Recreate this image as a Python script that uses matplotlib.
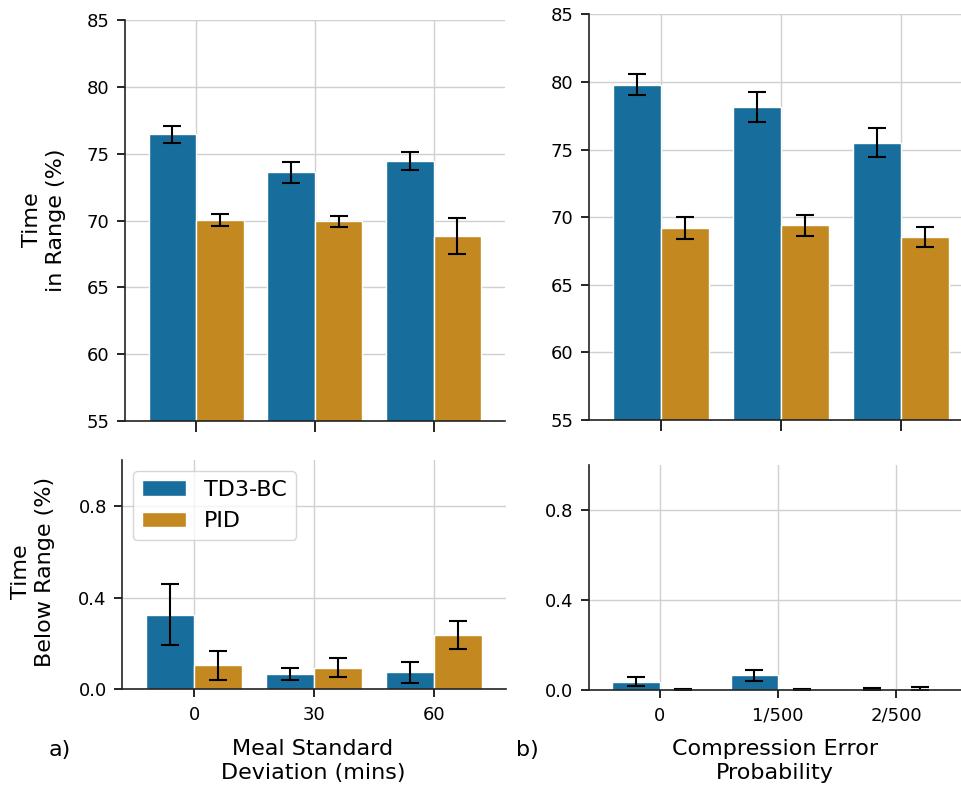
import numpy as np
import matplotlib
matplotlib.use("Agg")
import matplotlib.pyplot as plt
import seaborn as sns

# Data
meal_labels = ["0", "30", "60"]
comp_labels = ["0", "1/500", "2/500"]

tir_meal_td3 = [76.45, 73.6, 74.45]
tir_meal_td3_err = [0.65, 0.8, 0.66]
tir_meal_pid = [70.05, 69.95, 68.85]
tir_meal_pid_err = [0.45, 0.4, 1.35]

tir_comp_td3 = [79.8, 78.15, 75.5]
tir_comp_td3_err = [0.76, 1.1, 1.06]
tir_comp_pid = [69.2, 69.4, 68.55]
tir_comp_pid_err = [0.8, 0.78, 0.75]

tbr_meal_td3 = [0.325, 0.065, 0.075]
tbr_meal_td3_err = [0.133, 0.026, 0.046]
tbr_meal_pid = [0.105, 0.095, 0.237]
tbr_meal_pid_err = [0.063, 0.04, 0.06]

tbr_comp_td3 = [0.036, 0.065, 0.005]
tbr_comp_td3_err = [0.02, 0.023, 0.005]
tbr_comp_pid = [0.002, 0.002, 0.006]
tbr_comp_pid_err = [0.001, 0.002, 0.005]

pal = sns.color_palette("colorblind")
c_td3 = sns.desaturate(pal[0], 0.75)
c_pid = sns.desaturate(pal[1], 0.75)

plt.rcParams['font.family'] = ['DejaVu Sans']

fig = plt.figure(figsize=(9.61, 7.87), dpi=100)
ax_tl = fig.add_axes([0.130, 0.465, 0.3955, 0.5096])
ax_tr = fig.add_axes([0.6129, 0.4663, 0.3996, 0.5155])
ax_bl = fig.add_axes([0.127, 0.1241, 0.3996, 0.2914])
ax_br = fig.add_axes([0.6126, 0.1233, 0.3937, 0.2857])


def draw(ax, td3, td3_err, pid, pid_err, labels, ylim, yticks, show_labels):
    x = np.arange(len(labels))
    w = 0.4
    ekw = dict(ecolor="black", elinewidth=1.5, capsize=6.5, capthick=1.5)
    ax.bar(x - w / 2, td3, w, yerr=td3_err, color=c_td3, edgecolor="white",
           linewidth=1, label="TD3-BC", error_kw=ekw, zorder=2)
    ax.bar(x + w / 2, pid, w, yerr=pid_err, color=c_pid, edgecolor="white",
           linewidth=1, label="PID", error_kw=ekw, zorder=2)
    ax.set_xlim(-0.6, 2.6)
    ax.set_ylim(*ylim)
    ax.set_yticks(yticks)
    ax.set_xticks(x)
    if show_labels:
        ax.set_xticklabels(labels)
    else:
        ax.set_xticklabels([])
    ax.grid(True, color="#d0d0d0", linewidth=1)
    ax.set_axisbelow(True)
    for s in ["top", "right"]:
        ax.spines[s].set_visible(False)
    for s in ["left", "bottom"]:
        ax.spines[s].set_color("#222222")
        ax.spines[s].set_linewidth(1.2)
    ax.tick_params(labelsize=13, length=6, width=1.2, pad=5)


draw(ax_tl, tir_meal_td3, tir_meal_td3_err, tir_meal_pid, tir_meal_pid_err,
     meal_labels, (55, 85), [55, 60, 65, 70, 75, 80, 85], False)
draw(ax_tr, tir_comp_td3, tir_comp_td3_err, tir_comp_pid, tir_comp_pid_err,
     comp_labels, (55, 85), [55, 60, 65, 70, 75, 80, 85], False)
draw(ax_bl, tbr_meal_td3, tbr_meal_td3_err, tbr_meal_pid, tbr_meal_pid_err,
     meal_labels, (0, 1.0), [0.0, 0.4, 0.8], True)
draw(ax_br, tbr_comp_td3, tbr_comp_td3_err, tbr_comp_pid, tbr_comp_pid_err,
     comp_labels, (0, 1.0), [0.0, 0.4, 0.8], True)
ax_tl.tick_params(axis="x", length=8)
ax_tr.tick_params(axis="x", length=8)
ax_bl.tick_params(axis="x", pad=6)
ax_br.tick_params(axis="x", pad=6)

ax_bl.legend(loc="upper left", fontsize=16, handlelength=2.0,
             edgecolor="#cccccc")

fig.text(44 / 961, 1 - 220 / 787, "Time\nin Range (%)", rotation=90,
         ha="center", va="center", fontsize=16, multialignment="center")
fig.text(33 / 961, 1 - 572 / 787, "Time\nBelow Range (%)", rotation=90,
         ha="center", va="center", fontsize=16, multialignment="center")
fig.text(313 / 961, 1 - 761 / 787, "Meal Standard\nDeviation (mins)",
         ha="center", va="center", fontsize=16, multialignment="center")
fig.text(775 / 961, 1 - 761 / 787, "Compression Error\nProbability",
         ha="center", va="center", fontsize=16, multialignment="center")
fig.text(60 / 961, 1 - 750 / 787, "a)", ha="center", va="center", fontsize=16)
fig.text(527 / 961, 1 - 750 / 787, "b)", ha="center", va="center", fontsize=16)

fig.savefig("out.png", dpi=100)
